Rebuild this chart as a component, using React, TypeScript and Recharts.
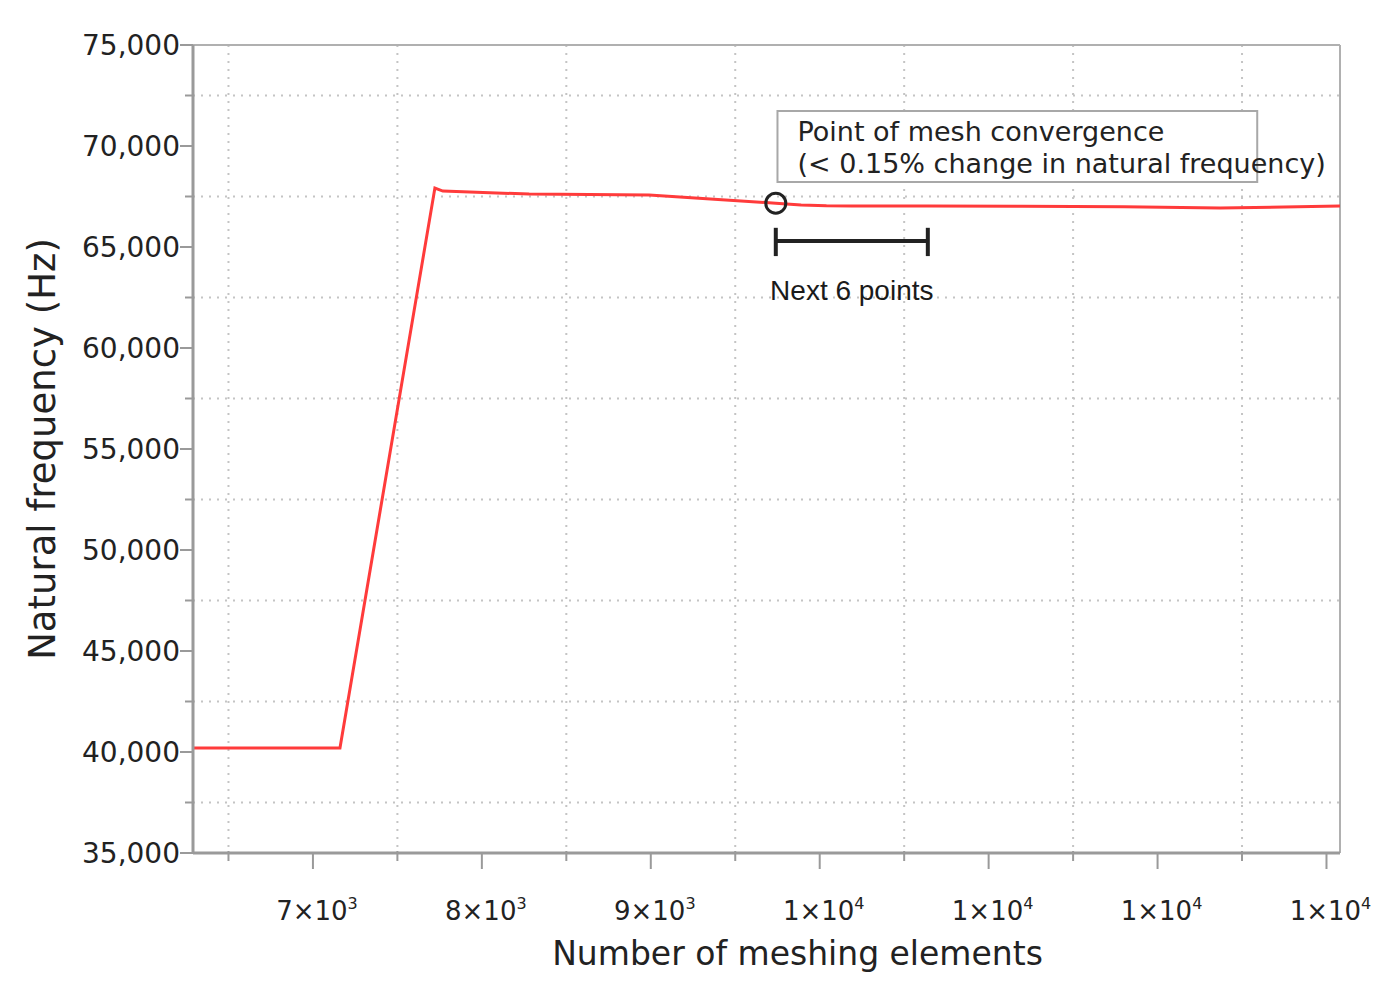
import React from 'react';
import {
  LineChart,
  Line,
  XAxis,
  YAxis,
  CartesianGrid,
  ReferenceLine,
  ReferenceDot,
  ReferenceArea,
} from 'recharts';

// mesh study: number of elements vs first natural frequency
const elements = [6290, 7160, 7722, 7769, 8280, 8990, 9740, 9890, 10040, 10190, 10340, 10490, 10640, 11200, 11800, 12370, 13080];
const frequency = [40200, 40200, 67920, 67770, 67620, 67570, 67170, 67080, 67040, 67030, 67030, 67030, 67030, 67020, 66990, 66930, 67030];

const xDomain = [6290, 13080];
const yDomain = [35000, 75000];
const xTicks = [6500, 7000, 7500, 8000, 8500, 9000, 9500, 10000, 10500, 11000, 11500, 12000, 12500, 13000];
const yTicks = [35000, 37500, 40000, 42500, 45000, 47500, 50000, 52500, 55000, 57500, 60000, 62500, 65000, 67500, 70000, 72500, 75000];
const xGrid = [6500, 7500, 8500, 9500, 10500, 11500, 12500];
const yGrid = [37500, 42500, 47500, 52500, 57500, 62500, 67500, 72500];

const convergence = { elements: 9740, frequency: 67170 };
const nextPointsEnd = 10640;
const bracketLevel = 65300;
const bracketTop = 65950;
const bracketBottom = 64550;
const noteBox = { x1: 9750, x2: 12590, y1: 68220, y2: 71730 };
const noteLines = ['Point of mesh convergence', '(< 0.15% change in natural frequency)'];

const data = elements.map((e, i) => ({ elements: e, frequency: frequency[i] }));

const FONT = '"DejaVu Sans", Verdana, sans-serif';
const AXIS = '#9a9a9a';
const TEXT = '#222';

function YTick(props: any) {
  const { x, y, payload } = props;
  const major = payload.value % 5000 === 0;
  return (
    <g>
      <line x1={x - (major ? 13 : 8)} x2={x} y1={y} y2={y} stroke={AXIS} strokeWidth={2} />
      {major && (
        <text x={x - 13} y={y} textAnchor="end" dominantBaseline="central" fontFamily={FONT} fontSize={28} fill={TEXT}>
          {payload.value.toLocaleString('en-US')}
        </text>
      )}
    </g>
  );
}

function XTick(props: any) {
  const { x, y, payload } = props;
  const v = payload.value;
  const major = v % 1000 === 0;
  const exp = v < 10000 ? 3 : 4;
  const mant = Math.round(v / Math.pow(10, exp));
  return (
    <g>
      <line x1={x} x2={x} y1={y - (major ? 0 : 2)} y2={y + (major ? 16 : 8)} stroke={AXIS} strokeWidth={2} />
      {major && (
        <text x={x + 4} y={y + 67} textAnchor="middle" fontFamily={FONT} fontSize={26} fill={TEXT}>
          <tspan>{`${mant}×10`}</tspan>
          <tspan dy={-11} fontSize={16}>{exp}</tspan>
        </text>
      )}
    </g>
  );
}

const yTitle = (props: any) => {
  const vb = props.viewBox;
  const cx = vb.x + 42;
  const cy = vb.y + vb.height / 2;
  return (
    <text x={cx} y={cy} transform={`rotate(-90, ${cx}, ${cy})`} textAnchor="middle" dominantBaseline="central" fontFamily={FONT} fontSize={37} fill={TEXT}>
      Natural frequency (Hz)
    </text>
  );
};

const xTitle = (props: any) => {
  const vb = props.viewBox;
  return (
    <text x={vb.x + vb.width / 2 + 31} y={vb.y + 100} textAnchor="middle" dominantBaseline="central" fontFamily={FONT} fontSize={33} fill={TEXT}>
      Number of meshing elements
    </text>
  );
};

const noteText = (props: any) => {
  const vb = props.viewBox;
  return (
    <text fontFamily={FONT} fontSize={27} fill={TEXT}>
      <tspan x={vb.x + 20} y={vb.y + 30}>{noteLines[0]}</tspan>
      <tspan x={vb.x + 20} y={vb.y + 62}>{noteLines[1]}</tspan>
    </text>
  );
};

const bracketText = (props: any) => {
  const vb = props.viewBox;
  return (
    <text x={vb.x + vb.width / 2} y={vb.y + 59} textAnchor="middle" fontFamily='"Liberation Sans", Arial, sans-serif' fontSize={28} fill="#1a1a1a">
      Next 6 points
    </text>
  );
};

export default function App() {
  return (
    <div style={{ position: 'absolute', left: 0, top: 0, background: '#fff', fontFamily: FONT }}>
      <LineChart width={1400} height={988} data={data} margin={{ top: 45, right: 60, bottom: 0, left: 0 }}>
        <CartesianGrid
          horizontalValues={yGrid}
          verticalValues={xGrid}
          stroke="#c4c4c4"
          strokeWidth={2}
          strokeDasharray="2 6"
        />
        <XAxis
          type="number"
          dataKey="elements"
          domain={xDomain}
          ticks={xTicks}
          interval={0}
          allowDataOverflow
          height={135}
          tickSize={0}
          tickMargin={0}
          tickLine={false}
          tick={<XTick />}
          axisLine={{ stroke: AXIS, strokeWidth: 3 }}
          label={{ content: xTitle }}
        />
        <YAxis
          type="number"
          domain={yDomain}
          ticks={yTicks}
          interval={0}
          allowDataOverflow
          width={193}
          tickSize={0}
          tickMargin={0}
          tickLine={false}
          tick={<YTick />}
          axisLine={{ stroke: AXIS, strokeWidth: 3 }}
          label={{ content: yTitle }}
        />
        <ReferenceLine y={yDomain[1]} stroke="#b0b0b0" strokeWidth={2} />
        <ReferenceLine x={xDomain[1]} stroke="#b0b0b0" strokeWidth={2} />
        <ReferenceArea
          x1={noteBox.x1}
          x2={noteBox.x2}
          y1={noteBox.y1}
          y2={noteBox.y2}
          fill="#fff"
          fillOpacity={1}
          stroke="#a8a8a8"
          strokeWidth={2}
          label={{ content: noteText }}
        />
        <Line
          type="linear"
          dataKey="frequency"
          stroke="#ff3b3b"
          strokeWidth={3}
          dot={false}
          activeDot={false}
          isAnimationActive={false}
        />
        <ReferenceDot
          x={convergence.elements}
          y={convergence.frequency}
          r={10}
          fill="none"
          stroke="#222"
          strokeWidth={3}
        />
        <ReferenceLine
          segment={[
            { x: convergence.elements, y: bracketLevel },
            { x: nextPointsEnd, y: bracketLevel },
          ]}
          stroke="#222"
          strokeWidth={4}
          label={{ content: bracketText }}
        />
        <ReferenceLine
          segment={[
            { x: convergence.elements, y: bracketTop },
            { x: convergence.elements, y: bracketBottom },
          ]}
          stroke="#222"
          strokeWidth={4}
        />
        <ReferenceLine
          segment={[
            { x: nextPointsEnd, y: bracketTop },
            { x: nextPointsEnd, y: bracketBottom },
          ]}
          stroke="#222"
          strokeWidth={4}
        />
      </LineChart>
    </div>
  );
}
